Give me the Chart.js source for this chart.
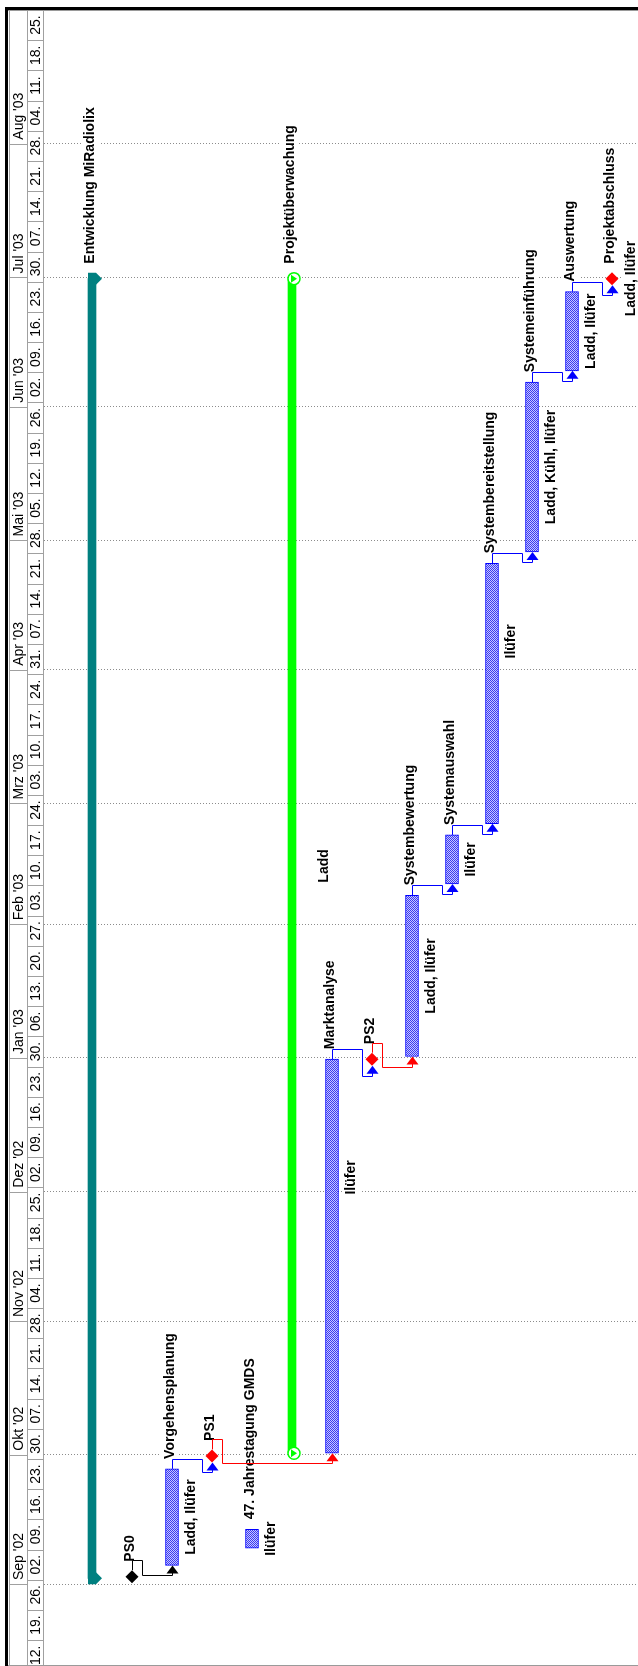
<!DOCTYPE html>
<html lang="de">
<head>
<meta charset="utf-8">
<title>Projektplan MiRadiolix</title>
<script src="https://cdn.jsdelivr.net/npm/chart.js@4.4.1/dist/chart.umd.min.js"></script>
<style>
  html, body { margin: 0; padding: 0; background: #fff; overflow: hidden; }
  #box { position: relative; width: 638px; height: 1666px; }
</style>
</head>
<body>
<div id="box"><canvas id="gantt"></canvas></div>
<script>
// Vorgaenge, eine Zeile pro Eintrag (Zeit laeuft nach oben)
const taskNames = ["Entwicklung MiRadiolix", "PS0", "Vorgehensplanung", "PS1", "47. Jahrestagung GMDS", "Projektüberwachung", "Marktanalyse", "PS2", "Systembewertung", "Systemauswahl", "Systembereitstellung", "Systemeinführung", "Auswertung", "Projektabschluss"];
const taskTypes = ["summary", "milestone", "task", "milestone", "task", "recurring", "task", "milestone", "task", "task", "task", "task", "task", "milestone"];
const taskStarts = ["2002-09-02", "2002-09-02", "2002-09-05", "2002-09-30", "2002-09-09", "2002-10-01", "2002-10-01", "2002-12-31", "2003-01-01", "2003-02-10", "2003-02-24", "2003-04-28", "2003-06-09", "2003-06-30"];
const taskFinishes = ["2003-06-30", "2002-09-02", "2002-09-27", "2002-09-30", "2002-09-13", "2003-06-30", "2002-12-31", "2002-12-31", "2003-02-07", "2003-02-21", "2003-04-25", "2003-06-06", "2003-06-27", "2003-06-30"];
const taskResources = ["", "", "Ladd, Ilüfer", "", "Ilüfer", "Ladd", "Ilüfer", "", "Ladd, Ilüfer", "Ilüfer", "Ilüfer", "Ladd, Kühl, Ilüfer", "Ladd, Ilüfer", "Ladd, Ilüfer"];
const taskCritical = [false, false, false, true, false, false, false, true, false, false, false, false, false, true];

// Anordnungsbeziehungen (Ende-Anfang)
const linkFrom = [1, 2, 3, 6, 7, 8, 9, 10, 11, 12];
const linkTo = [2, 3, 6, 7, 8, 9, 10, 11, 12, 13];

// Zeitskala
const firstWeek = "2002-08-12";
const weekLabels = ["12.", "19.", "26.", "02.", "09.", "16.", "23.", "30.", "07.", "14.", "21.", "28.", "04.", "11.", "18.", "25.", "02.", "09.", "16.", "23.", "30.", "06.", "13.", "20.", "27.", "03.", "10.", "17.", "24.", "03.", "10.", "17.", "24.", "31.", "07.", "14.", "21.", "28.", "05.", "12.", "19.", "26.", "02.", "09.", "16.", "23.", "30.", "07.", "14.", "21.", "28.", "04.", "11.", "18.", "25."];
const monthLabels = ["Sep '02", "Okt '02", "Nov '02", "Dez '02", "Jan '03", "Feb '03", "Mrz '03", "Apr '03", "Mai '03", "Jun '03", "Jul '03", "Aug '03"];
const monthStarts = ["2002-09-01", "2002-10-01", "2002-11-01", "2002-12-01", "2003-01-01", "2003-02-01", "2003-03-01", "2003-04-01", "2003-05-01", "2003-06-01", "2003-07-01", "2003-08-01"];
const viewStart = "2002-08-13";
const viewEnd = "2003-09-01";

const FONT = '"Liberation Sans", Arial, sans-serif';
const dayZero = Date.UTC(2002, 7, 12);
const toDay = (iso, hour = 0) => {
  const [yy, mm, dd] = iso.split("-").map(Number);
  return (Date.UTC(yy, mm - 1, dd) - dayZero) / 864e5 + hour / 24;
};
const rowOf = (i) => i + 1;
const startOf = (i) => toDay(taskStarts[i], 8);
const finishOf = (i) => toDay(taskFinishes[i], 17);

const barsOfType = (type) =>
  taskNames.map((n, i) => (taskTypes[i] === type ? { x: rowOf(i), y: [startOf(i), finishOf(i)] } : null)).filter(Boolean);
const milestoneIdx = taskNames.map((n, i) => i).filter((i) => taskTypes[i] === "milestone");

// blau gerastertes Balkenmuster
const tile = document.createElement("canvas");
tile.width = 2;
tile.height = 2;
const tctx = tile.getContext("2d");
tctx.fillStyle = "#c8c8ff";
tctx.fillRect(0, 0, 2, 2);
tctx.fillStyle = "#3a3af2";
tctx.fillRect(0, 0, 1, 1);
tctx.fillRect(1, 1, 1, 1);
const barPattern = tctx.createPattern(tile, "repeat");

const vText = (ctx, text, x, y, align, bg) => {
  ctx.save();
  ctx.translate(x, y);
  ctx.rotate(-Math.PI / 2);
  ctx.textAlign = align;
  ctx.textBaseline = "middle";
  if (bg) {
    const w = ctx.measureText(text).width;
    const x0 = align === "center" ? -w / 2 : align === "left" ? 0 : -w;
    ctx.fillStyle = "#fff";
    ctx.fillRect(x0 - 1, -9, w + 2, 18);
  }
  ctx.fillStyle = "#000";
  ctx.fillText(text, 0, 0);
  ctx.restore();
};

const ganttDecor = {
  id: "ganttDecor",
  afterDatasetsDraw(chart) {
    const { ctx } = chart;
    const { x, y } = chart.scales;
    const px = (i) => x.getPixelForValue(rowOf(i));
    const yS = (i) => y.getPixelForValue(startOf(i));
    const yF = (i) => y.getPixelForValue(finishOf(i));
    ctx.save();

    // Sammelbalken-Enden und Marker der Projektueberwachung
    taskNames.forEach((name, i) => {
      const cx = px(i);
      if (taskTypes[i] === "summary") {
        [yF(i), yS(i)].forEach((ye) => {
          ctx.fillStyle = "#008080";
          ctx.beginPath();
          ctx.moveTo(cx - 4, ye - 6);
          ctx.lineTo(cx + 4, ye - 6);
          ctx.lineTo(cx + 10, ye);
          ctx.lineTo(cx + 4, ye + 6);
          ctx.lineTo(cx - 4, ye + 6);
          ctx.closePath();
          ctx.fill();
        });
      }
      if (taskTypes[i] === "recurring") {
        [yF(i), yS(i)].forEach((ye) => {
          ctx.beginPath();
          ctx.arc(cx + 2, ye, 6, 0, Math.PI * 2);
          ctx.fillStyle = "#fff";
          ctx.fill();
          ctx.strokeStyle = "#00ff00";
          ctx.lineWidth = 1.5;
          ctx.stroke();
          ctx.fillStyle = "#00ff00";
          ctx.beginPath();
          ctx.moveTo(cx - 1, ye - 4);
          ctx.lineTo(cx + 5, ye);
          ctx.lineTo(cx - 1, ye + 4);
          ctx.closePath();
          ctx.fill();
        });
      }
    });

    // Beschriftungen: Name oberhalb des Endes, Ressourcen rechts daneben
    ctx.font = `bold 14px ${FONT}`;
    taskNames.forEach((name, i) => {
      const cx = px(i);
      const type = taskTypes[i];
      const gap = type === "task" ? 10 : 15;
      vText(ctx, name, cx - 2, yF(i) - gap, "left", true);
      if (taskResources[i]) {
        let mid = (yS(i) + yF(i)) / 2;
        if (type === "milestone") mid = yF(i);
        // lange Balken: Text im oberen Drittel
        if (type === "task" && yS(i) - yF(i) > 200) mid = yF(i) + 0.3 * (yS(i) - yF(i));
        const dx = type === "recurring" ? 32 : 19.5;
        vText(ctx, taskResources[i], cx + dx, mid, "center", true);
      }
    });

    // Verknuepfungslinien mit Pfeilspitzen
    linkFrom.forEach((a, k) => {
      const b = linkTo[k];
      const srcMs = taskTypes[a] === "milestone";
      const tgtMs = taskTypes[b] === "milestone";
      const xs = Math.round(px(a)) + 0.5;
      const xt = Math.round(px(b)) + 0.5;
      const ys = srcMs ? yF(a) - 6.5 : yF(a);
      const yt = tgtMs ? yF(b) + 6.5 : yS(b);
      const y1 = Math.round(ys - 10) + 0.5;
      const y2 = Math.round(yt + 10) + 0.5;
      const xe = srcMs ? xs + 10 : xt - 10;
      const color = srcMs ? (taskCritical[a] ? "#ff0000" : "#000000") : "#0000ff";
      ctx.strokeStyle = color;
      ctx.lineWidth = 1;
      ctx.beginPath();
      ctx.moveTo(xs, ys);
      ctx.lineTo(xs, y1);
      ctx.lineTo(xe, y1);
      ctx.lineTo(xe, y2);
      ctx.lineTo(xt, y2);
      ctx.lineTo(xt, yt + 7);
      ctx.stroke();
      ctx.fillStyle = color;
      ctx.beginPath();
      ctx.moveTo(xt, yt);
      ctx.lineTo(xt - 6, yt + 8);
      ctx.lineTo(xt + 6, yt + 8);
      ctx.closePath();
      ctx.fill();
    });
    ctx.restore();
  },
  afterDraw(chart) {
    const { ctx } = chart;
    const y = chart.scales.y;
    const H = chart.height;
    const W = chart.width;
    ctx.save();
    ctx.fillStyle = "#fff";
    ctx.fillRect(0, 0, 44, H);
    ctx.fillStyle = "#a0a0a0";
    ctx.fillRect(9, 10, 1, H - 10);
    ctx.fillRect(27, 10, 1, H - 10);
    ctx.fillRect(43, 10, 1, H - 10);
    ctx.font = `14px ${FONT}`;

    // Wochen
    const w0 = toDay(firstWeek);
    weekLabels.forEach((lab, i) => {
      const yb = y.getPixelForValue(w0 + 7 * i);
      const yt = y.getPixelForValue(w0 + 7 * i + 7);
      ctx.fillStyle = "#a0a0a0";
      ctx.fillRect(27, Math.round(yt), 17, 1);
      vText(ctx, lab, 36.5, (yb + yt) / 2, "center", false);
    });

    // Monate
    monthLabels.forEach((lab, i) => {
      const ym = y.getPixelForValue(toDay(monthStarts[i]));
      ctx.fillStyle = "#a0a0a0";
      ctx.fillRect(9, Math.round(ym), 18, 1);
      vText(ctx, lab, 19, ym - 4, "left", false);
    });

    // Rahmen
    ctx.fillStyle = "#000";
    ctx.fillRect(5, 7, W - 5, 3);
    ctx.fillRect(5, 7, 3, H - 7);
    ctx.fillStyle = "#9a9a9a";
    ctx.fillRect(8, 10, W - 8, 1);
    ctx.fillRect(8, H - 1, W - 8, 1);
    ctx.restore();
  },
};

new Chart(document.getElementById("gantt"), {
  type: "bar",
  data: {
    datasets: [
      {
        type: "scatter",
        label: "Meilensteine",
        data: milestoneIdx.map((i) => ({ x: rowOf(i), y: finishOf(i) })),
        pointStyle: "rectRot",
        pointRadius: 6.5,
        pointHoverRadius: 6.5,
        pointBorderWidth: 0,
        pointBackgroundColor: milestoneIdx.map((i) => (taskCritical[i] ? "#ff0000" : "#000000")),
      },
      {
        label: "Vorgänge",
        data: barsOfType("task"),
        backgroundColor: barPattern,
        borderColor: "#0000ff",
        borderWidth: 1,
        borderSkipped: false,
        barThickness: 13,
        grouped: false,
      },
      {
        label: "Sammelvorgang",
        data: barsOfType("summary"),
        backgroundColor: "#008080",
        barThickness: 8,
        grouped: false,
      },
      {
        label: "Projektüberwachung",
        data: barsOfType("recurring"),
        backgroundColor: "#00ff00",
        barThickness: 8,
        grouped: false,
      },
    ],
  },
  options: {
    responsive: true,
    maintainAspectRatio: false,
    animation: false,
    devicePixelRatio: 1,
    layout: { autoPadding: false, padding: { left: 44, top: 10, right: 0, bottom: 0 } },
    plugins: { legend: { display: false }, tooltip: { enabled: false } },
    scales: {
      x: { type: "linear", min: -0.2, max: 14.65, offset: false, display: false },
      y: {
        type: "linear",
        min: toDay(viewStart),
        max: toDay(viewEnd),
        ticks: { display: false },
        grid: { drawTicks: false, color: "#8c8c8c", lineWidth: 1 },
        border: { display: false, dash: [1, 2] },
        afterBuildTicks: (scale) => {
          scale.ticks = monthStarts.map((m) => ({ value: toDay(m) }));
        },
        afterFit: (scale) => {
          scale.width = 0;
        },
      },
    },
  },
  plugins: [ganttDecor],
});
</script>
</body>
</html>
